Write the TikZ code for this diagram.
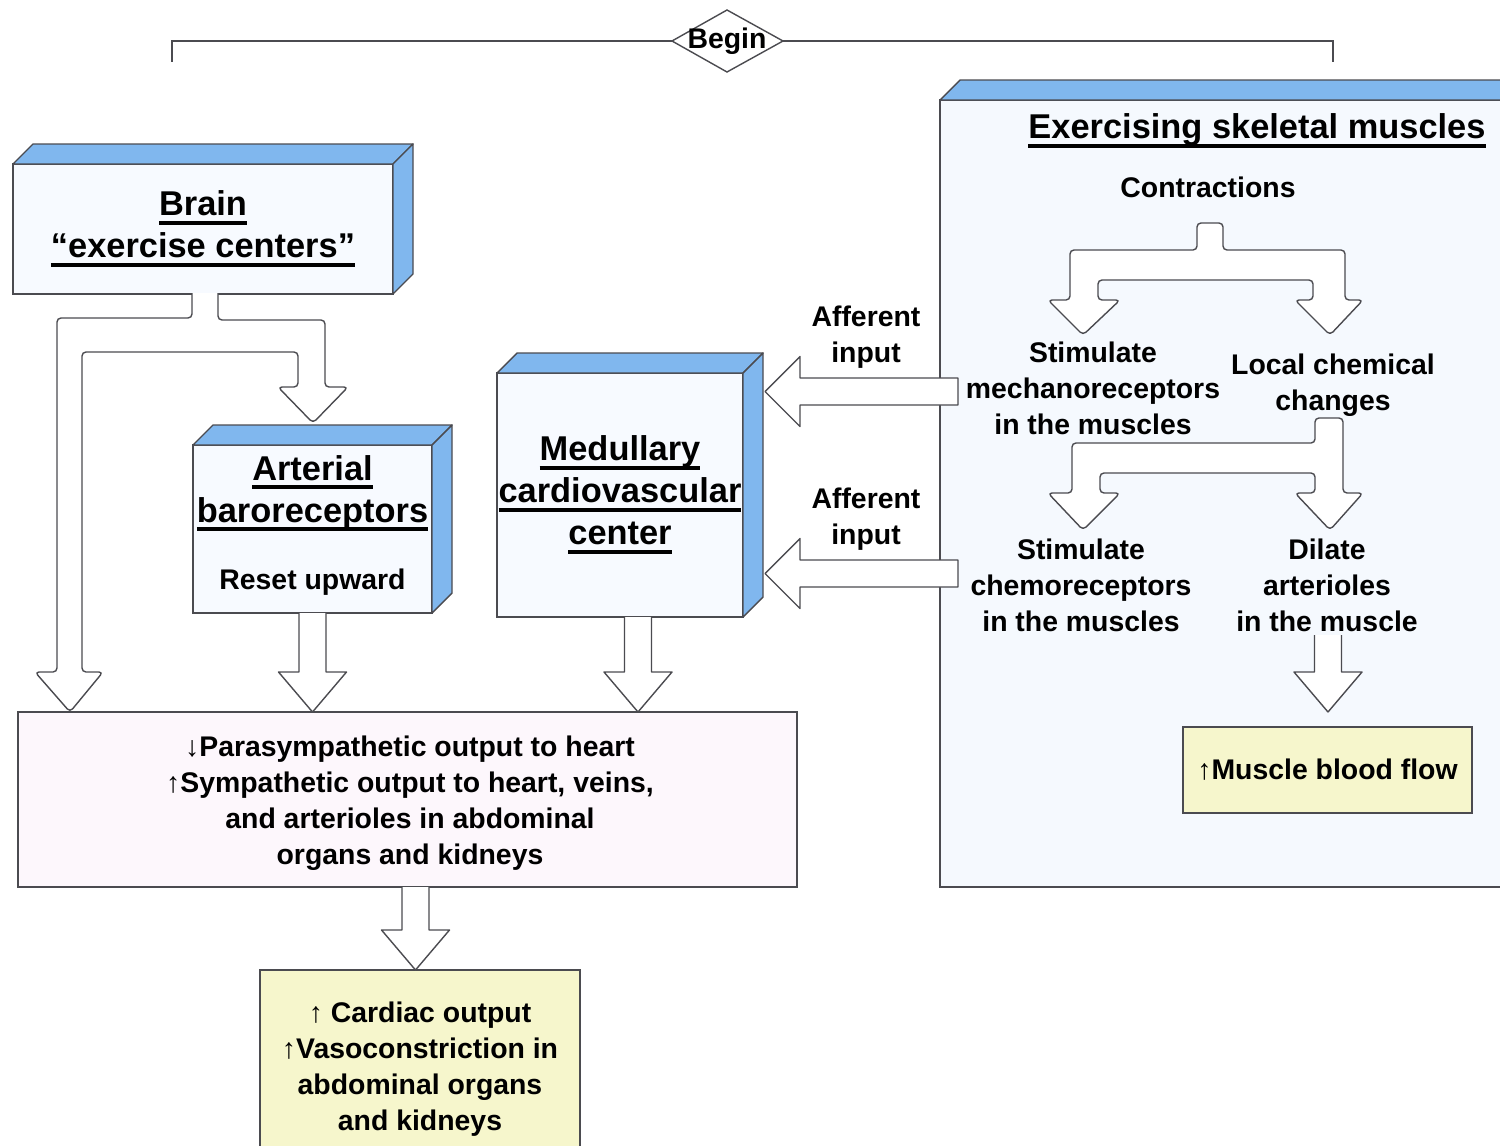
\documentclass[tikz,border=0pt]{standalone}
\usepackage{fontspec}
\setmainfont{Liberation Sans}
\usetikzlibrary{calc}

\definecolor{faceblue}{RGB}{128,183,238}
\definecolor{frontwhite}{RGB}{247,250,255}
\definecolor{musclebg}{RGB}{245,249,254}
\definecolor{pinkbg}{RGB}{253,247,252}
\definecolor{paleyellow}{RGB}{246,246,204}
\definecolor{edgegray}{RGB}{75,75,80}

\newcommand{\hfont}{\fontsize{17.2}{21}\selectfont\bfseries}
\newcommand{\sfont}{\fontsize{14.2}{18}\selectfont\bfseries}
% 粗下划线
\newcommand{\uln}[1]{\setbox0\hbox{#1}\rlap{\rule[-4.5pt]{\wd0}{1.8pt}}\box0}

% 立体方块的顶面和侧面
\newcommand{\boxfaces}[1]{%
  \draw[face] (#1.north west) -- ++(20,-20) -- ($(#1.north east)+(20,-20)$) -- (#1.north east) -- cycle;
  \draw[face] (#1.north east) -- ++(20,-20) -- ($(#1.south east)+(20,-20)$) -- (#1.south east) -- cycle;
}
% 空心粗箭头 (向下, 向左)
\newcommand{\fatdown}[2]{%
  \draw[fat] ($(#1)+(-13.5,0)$) -- ($(#2)+(-13.5,-40)$) -- ($(#2)+(-34,-40)$) -- (#2)
    -- ($(#2)+(34,-40)$) -- ($(#2)+(13.5,-40)$) -- ($(#1)+(13.5,0)$);
}
\newcommand{\fatleft}[2]{%
  \draw[fat] ($(#1)+(0,-13.5)$) -- ($(#2)+(35,-13.5)$) -- ($(#2)+(35,-35)$) -- (#2)
    -- ($(#2)+(35,35)$) -- ($(#2)+(35,13.5)$) -- ($(#1)+(0,13.5)$) -- cycle;
}

\begin{document}
\begin{tikzpicture}[x=0.5pt, y=-0.5pt,
    face/.style={draw=edgegray, fill=faceblue, line width=0.7pt, line join=round},
    front/.style={draw=edgegray, fill=frontwhite, line width=0.8pt, inner sep=0pt, outer sep=0pt, align=center, font=\hfont},
    pinkbox/.style={draw=edgegray, fill=pinkbg, line width=0.8pt, inner sep=0pt, outer sep=0pt, align=center, font=\sfont},
    yellowbox/.style={draw=edgegray, fill=paleyellow, line width=0.8pt, inner sep=0pt, outer sep=0pt, align=center, font=\sfont},
    fat/.style={draw=edgegray, fill=white, line width=0.7pt, line join=round},
    lbl/.style={align=center, font=\sfont, inner sep=0pt}]
    \useasboundingbox (0,0) rectangle (1500,1146);

    % 顶部 Begin
    \coordinate (bc) at (727,41);
    \coordinate (bl) at (172,62);
    \coordinate (br) at (1333,62);
    \draw[edgegray, line width=0.7pt] ($(bc)+(-55,0)$) -- ($(bc)+(0,-31)$) -- ($(bc)+(56,0)$) -- ($(bc)+(0,31)$) -- cycle;
    \draw[edgegray, line width=1pt] ($(bc)+(-55,0)$) -| (bl);
    \draw[edgegray, line width=1pt] ($(bc)+(56,0)$) -| (br);
    \node[lbl] (begin) at (bc) {Begin};

    % 大脑
    \node[front, minimum width=190pt, minimum height=65pt] (brain) at (203,229) {\uln{Brain}\\\uln{“exercise centers”}};
    \boxfaces{brain}

    % 动脉压力感受器
    \node[front, minimum width=119.5pt, minimum height=84pt] (baro) at (312.5,529) {};
    \boxfaces{baro}
    \node[lbl, font=\hfont] (barotext) at (312.5,525) {\uln{Arterial}\\\uln{baroreceptors}\\[12.5pt]{\sfont Reset upward}};

    % 延髓心血管中枢
    \node[front, minimum width=123pt, minimum height=122pt] (medul) at (620,495) {\uln{Medullary}\\\uln{cardiovascular}\\\uln{center}};
    \boxfaces{medul}

    % 骨骼肌
    \node[front, fill=musclebg, minimum width=290pt, minimum height=393.5pt] (muscle) at (1230,493.5) {};
    \boxfaces{muscle}
    \node[lbl, font=\hfont] (title) at (1257,131) {\uln{Exercising skeletal muscles}};
    \node[lbl] (contr) at (1208,187) {Contractions};
    \node[lbl] (mech) at (1093,388) {Stimulate\\mechanoreceptors\\in the muscles};
    \node[lbl] (chem) at (1333,385) {Local chemical\\changes};
    \node[lbl] (chemo) at (1081,585) {Stimulate\\chemoreceptors\\in the muscles};
    \node[lbl] (dilate) at (1327,585) {Dilate\\arterioles\\in the muscle};
    \node[yellowbox, minimum width=144.5pt, minimum height=43pt] (flow) at (1327.5,770) {↑Muscle blood flow};

    % 输出
    \node[pinkbox, minimum width=389.5pt, minimum height=87.5pt] (auto) at (407.5,799.5) {};
    \node[lbl] (autotext) at (410,803) {↓Parasympathetic output to heart\\↑Sympathetic output to heart, veins,\\and arterioles in abdominal\\organs and kidneys};
    \node[yellowbox, minimum width=160pt, minimum height=99pt] (result) at (420,1069) {↑ Cardiac output\\↑Vasoconstriction in\\abdominal organs\\and kidneys};

    % 分叉箭头
    \draw[fat, rounded corners=2pt] (192,293) -- (192,318) -- (57,318) -- (57,672) -- (35,672) -- (70,712) -- (103,672)
      -- (82,672) -- (82,352) -- (298,352) -- (298,387) -- (278,387) -- (313,423) -- (348,387)
      -- (325,387) -- (325,320) -- (218,320) -- (218,293);
    \draw[fat, rounded corners=2pt] (1197,223) -- (1197,250) -- (1070,250) -- (1070,300) -- (1048,300) -- (1083,335)
      -- (1120,300) -- (1098,300) -- (1098,280) -- (1313,280) -- (1313,300) -- (1295,300) -- (1330,335)
      -- (1363,300) -- (1345,300) -- (1345,250) -- (1223,250) -- (1223,223) -- cycle;
    \draw[fat, rounded corners=2pt] (1315,418) -- (1315,443) -- (1072,443) -- (1072,493) -- (1048,493) -- (1083,530)
      -- (1120,493) -- (1100,493) -- (1100,473) -- (1315,473) -- (1315,493) -- (1295,493) -- (1330,530)
      -- (1363,493) -- (1343,493) -- (1343,418) -- cycle;

    % 直箭头
    \coordinate (m1) at ($(medul.south)+(18,0)$);
    \coordinate (p1) at ($(auto.south)+(8,0)$);
    \coordinate (d1) at (1328,635);
    \coordinate (d2) at ($(flow.north)+(0.5,-15)$);
    \fatdown{baro.south}{baro.south |- auto.north}
    \fatdown{m1}{m1 |- auto.north}
    \fatdown{p1}{p1 |- result.north}
    \fatdown{d1}{d2}

    % 传入信号
    \coordinate (f1) at (958,391.5);
    \coordinate (f2) at (958,573.5);
    \coordinate (f1t) at ($(medul.east |- f1)+(22,0)$);
    \coordinate (f2t) at ($(medul.east |- f2)+(22,0)$);
    \fatleft{f1}{f1t}
    \fatleft{f2}{f2t}
    \node[lbl] (aff1) at (866,337) {Afferent\\input};
    \node[lbl] (aff2) at (866,519) {Afferent\\input};
\end{tikzpicture}
\end{document}
